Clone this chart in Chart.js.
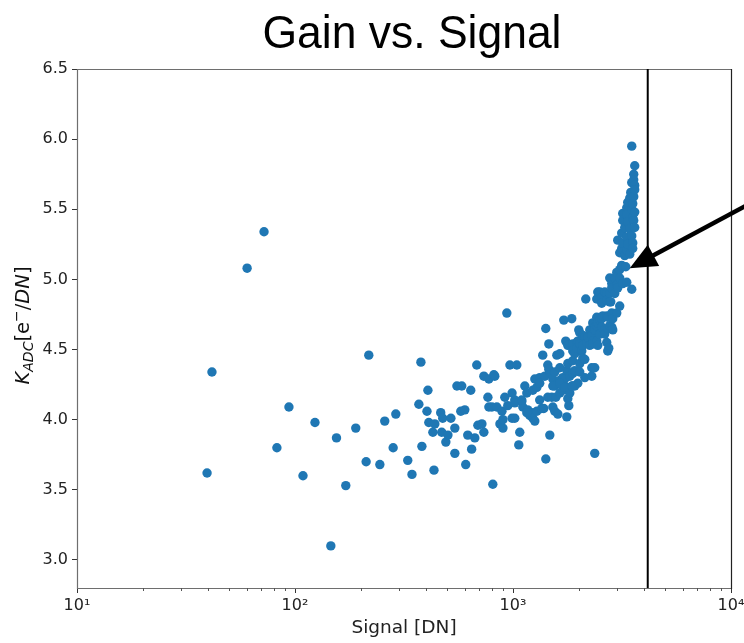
<!DOCTYPE html>
<html>
<head>
<meta charset="utf-8">
<script src="https://cdn.jsdelivr.net/npm/chart.js@4.4.1/dist/chart.umd.min.js"></script>
<style>
html,body{margin:0;padding:0;background:#fff;}
#wrap{width:744px;height:643px;position:relative;}
</style>
</head>
<body>
<div id="wrap"><canvas id="c" width="744" height="643"></canvas></div>
<script>
// ---------------- data ----------------
const chartTitle = 'Gain vs. Signal';
const xAxisTitle = 'Signal [DN]';
const xRange = [10, 10000];
const yRange = [2.8, 6.5];
const xMajorTicks = [10, 100, 1000, 10000];
const yTickValues = [3.0, 3.5, 4.0, 4.5, 5.0, 5.5, 6.0, 6.5];
const saturationSignal = 4150;           // vertical line
const arrowTip = {x: 3430, y: 5.08};     // annotation arrow (data coords)
const arrowTail = {x: 13600, y: 5.58};

const signal = [
39.5,41.6,60.3,72.1,82.6,93.8,108.8,123.5,146,155,171,190,212,218,245,258,282,290,329,344,
370,378,382,403,407,411,429,434,438,466,476,471,492,503,519,541,541,553,582,576,
601,607,620,640,646,668,682,690,720,735,735,767,775,775,800,808,825,843,871,890,
899,917,937,946,968,990,990,1019,1019,1041,1063,1074,1097,1109,1133,1157,1169,1194,1220,1233,
1233,1259,1259,1286,1286,1326,1326,1354,1369,1384,1399,1414,1414,1444,1444,1460,1475,1475,1507,1523,
1523,1555,1555,1572,1589,1606,1606,1640,1640,1640,1692,1692,1710,1728,1746,1765,1765,1765,1784,1784,
1784,1803,1822,1822,1860,1880,1880,1880,1880,1880,1920,1920,1920,1961,1961,1982,1982,2003,2024,2024,
2024,2024,2068,2090,2090,2090,2134,2134,2134,2157,2180,2203,2250,2250,2298,2298,2298,2322,2322,2322,
2371,2371,2371,2371,2422,2422,2422,2422,2448,2448,2448,2500,2500,2500,2553,2553,2553,2553,2580,2635,
2635,2635,2691,2691,2691,2691,2720,2720,2720,2749,2778,2778,2778,2778,2808,2838,2838,2838,2838,2868,
2868,2929,2929,2991,2991,2991,3023,3023,3087,3087,3087,3087,3152,3152,3152,3186,3186,3186,3186,3255,
3255,3290,3325,3325,3325,3325,3325,3360,3360,3360,3432,3432,3432,3468,3505,3505,3505,3505,3505,3542,
3542,3542,3542,3579,3579,3579,3579,3617,3617,3617,3617,3617,
1019,1097,1157,1523,1640,1728,1860,1326,1460,1555,1640,899,817
];
const gain = [
3.62,4.34,5.08,5.34,3.80,4.09,3.60,3.98,3.10,3.87,3.53,3.94,3.70,4.46,3.68,3.99,3.80,4.04,3.71,3.61,
4.11,4.41,3.81,4.06,4.21,3.98,3.91,3.64,3.97,4.05,4.01,3.91,3.84,3.89,4.01,3.94,3.76,4.24,4.24,4.06,
4.07,3.68,3.89,4.21,3.79,3.87,4.39,3.96,3.97,4.31,3.91,4.16,4.29,4.09,4.09,3.54,4.31,4.09,3.97,4.06,
3.94,4.16,4.76,4.10,4.39,4.19,4.01,4.14,4.01,4.39,3.82,3.91,4.13,4.09,4.24,4.19,4.07,4.03,4.05,4.21,
4.01,4.29,3.99,4.06,4.23,4.30,4.14,4.08,4.46,4.08,4.31,4.65,3.72,4.39,4.16,4.54,4.34,3.89,4.16,4.29,
4.09,4.24,4.06,4.16,4.46,4.26,4.04,4.47,4.28,4.19,4.30,4.21,4.71,4.29,4.56,4.35,4.23,4.02,4.53,4.40,
4.15,4.10,4.31,4.19,4.72,4.54,4.49,4.42,4.33,4.24,4.47,4.35,4.24,4.55,4.51,4.26,4.56,4.64,4.62,4.54,
4.40,4.34,4.49,4.60,4.53,4.44,4.59,4.43,4.30,4.86,4.55,4.59,4.64,4.53,4.60,4.37,4.31,4.69,4.56,4.54,
4.66,4.64,4.37,3.76,4.86,4.73,4.67,4.56,4.91,4.69,4.53,4.91,4.71,4.61,4.87,4.83,4.72,4.66,4.74,4.91,
4.64,4.61,4.90,4.85,4.74,4.55,4.73,4.65,4.49,4.51,5.01,4.90,4.84,4.67,4.84,4.97,4.94,4.76,4.66,4.72,
4.64,5.01,4.90,5.05,4.96,4.76,5.28,4.94,5.19,5.07,5.01,4.81,5.33,5.22,5.10,5.47,5.42,5.26,4.97,5.37,
5.17,5.09,5.51,5.46,5.30,5.21,4.98,5.55,5.41,5.25,5.58,5.36,5.18,5.62,5.95,5.69,5.50,5.31,4.93,5.54,
5.44,5.26,5.22,5.75,5.71,5.59,5.42,5.81,5.67,5.64,5.48,5.37,
4.12,4.14,4.05,4.24,4.26,4.23,4.24,4.26,4.36,4.34,4.37,4.00,4.32
];

// ---------------- helpers ----------------
const isPow10 = v => Math.abs(Math.log10(v) - Math.round(Math.log10(v))) < 1e-9;
const supDigits = {'0':'\u2070','1':'\u00B9','2':'\u00B2','3':'\u00B3','4':'\u2074','5':'\u2075','6':'\u2076','7':'\u2077','8':'\u2078','9':'\u2079'};
const FONT = '"DejaVu Sans", Verdana, sans-serif';
const TICK_COLOR = '#333';

const decorPlugin = {
  id: 'decor',
  beforeDatasetsDraw(chart) {
    const {ctx, chartArea: a} = chart;
    ctx.save();
    // spines
    ctx.lineWidth = 1.2;
    ctx.strokeStyle = '#6e6e6e';
    ctx.beginPath();
    ctx.moveTo(a.left + 0.5, a.top + 0.5);
    ctx.lineTo(a.right, a.top + 0.5);
    ctx.moveTo(a.left + 0.5, a.top);
    ctx.lineTo(a.left + 0.5, a.bottom + 0.5);
    ctx.lineTo(a.right, a.bottom + 0.5);
    ctx.stroke();
    ctx.strokeStyle = '#222';
    ctx.beginPath();
    ctx.moveTo(a.right + 0.5, a.top);
    ctx.lineTo(a.right + 0.5, a.bottom + 1);
    ctx.stroke();
    // minor x ticks
    const xs = chart.scales.x;
    ctx.strokeStyle = '#555';
    ctx.lineWidth = 1;
    ctx.beginPath();
    for (let d = xRange[0]; d < xRange[1]; d *= 10) {
      for (let m = 2; m <= 9; m++) {
        const px = Math.round(xs.getPixelForValue(d * m)) + 0.5;
        ctx.moveTo(px, a.bottom);
        ctx.lineTo(px, a.bottom + 3);
      }
    }
    ctx.stroke();
    ctx.restore();
  },
  afterDraw(chart) {
    const {ctx, chartArea: a} = chart;
    const xs = chart.scales.x, ys = chart.scales.y;
    ctx.save();
    // title (condensed)
    ctx.fillStyle = '#000';
    ctx.font = '46px "Liberation Sans", Arial, sans-serif';
    ctx.textAlign = 'center';
    ctx.textBaseline = 'alphabetic';
    const w = ctx.measureText(chartTitle).width;
    const cx = (a.left + a.right) / 2 + 8;
    ctx.translate(cx, 48);
    ctx.scale(299 / w, 1);
    ctx.fillText(chartTitle, 0, 0);
    ctx.restore();

    // y axis label  K_{ADC}[e^-/DN]
    ctx.save();
    ctx.fillStyle = '#111';
    const size = 19.5;
    const segs = [
      {t: 'K', f: 'italic ' + size + 'px ' + FONT, dy: 0},
      {t: 'ADC', f: 'italic ' + Math.round(size * 0.7) + 'px ' + FONT, dy: 4},
      {t: '[', f: size + 'px ' + FONT, dy: 0},
      {t: 'e', f: size + 'px ' + FONT, dy: 0},
      {t: '\u2212', f: Math.round(size * 0.7) + 'px ' + FONT, dy: -8},
      {t: '/', f: size + 'px ' + FONT, dy: 0},
      {t: 'DN', f: 'italic ' + size + 'px ' + FONT, dy: 0},
      {t: ']', f: size + 'px ' + FONT, dy: 0}
    ];
    let total = 0;
    segs.forEach(s => { ctx.font = s.f; s.w = ctx.measureText(s.t).width; total += s.w; });
    ctx.translate(29, (a.top + a.bottom) / 2 - 3);
    ctx.rotate(-Math.PI / 2);
    ctx.textBaseline = 'alphabetic';
    ctx.textAlign = 'left';
    let x = -total / 2;
    segs.forEach(s => { ctx.font = s.f; ctx.fillText(s.t, x, s.dy); x += s.w; });
    ctx.restore();

    // arrow annotation
    ctx.save();
    const tx = xs.getPixelForValue(arrowTip.x), ty = ys.getPixelForValue(arrowTip.y);
    const sx = xs.getPixelForValue(arrowTail.x), sy = ys.getPixelForValue(arrowTail.y);
    const dx = sx - tx, dy = sy - ty, L = Math.hypot(dx, dy);
    const ux = dx / L, uy = dy / L;
    const headLen = 27, headHalf = 12;
    ctx.strokeStyle = '#000';
    ctx.fillStyle = '#000';
    ctx.lineWidth = 4.5;
    ctx.beginPath();
    ctx.moveTo(sx, sy);
    ctx.lineTo(tx + ux * (headLen - 2), ty + uy * (headLen - 2));
    ctx.stroke();
    const bx = tx + ux * headLen, by = ty + uy * headLen;
    ctx.beginPath();
    ctx.moveTo(tx, ty);
    ctx.lineTo(bx - uy * headHalf, by + ux * headHalf);
    ctx.lineTo(bx + uy * headHalf, by - ux * headHalf);
    ctx.closePath();
    ctx.fill();
    ctx.restore();
  }
};

const points = signal.map((s, i) => ({x: s, y: gain[i]}));

new Chart(document.getElementById('c'), {
  data: {
    datasets: [
      {
        type: 'scatter',
        data: points,
        backgroundColor: '#1f77b4',
        borderWidth: 0,
        pointRadius: 4.7,
        pointHoverRadius: 4.7
      },
      {
        type: 'line',
        data: [{x: saturationSignal, y: yRange[0]}, {x: saturationSignal, y: yRange[1]}],
        borderColor: '#000',
        borderWidth: 2,
        pointRadius: 0,
        fill: false
      }
    ]
  },
  options: {
    responsive: false,
    animation: false,
    devicePixelRatio: 1,
    layout: {padding: {top: 69, right: 13, left: 0, bottom: 0}},
    plugins: {legend: {display: false}, tooltip: {enabled: false}, title: {display: false}},
    scales: {
      x: {
        type: 'logarithmic',
        min: xRange[0],
        max: xRange[1],
        afterBuildTicks: s => { s.ticks = xMajorTicks.map(v => ({value: v, major: true})); },
        afterFit: s => { s.height = 55; s.paddingLeft = 0; s.paddingRight = 0; },
        ticks: {
          autoSkip: false,
          maxRotation: 0,
          padding: 3,
          color: '#222',
          font: {family: FONT, size: 16},
          callback: v => isPow10(v) ? '10' + String(Math.round(Math.log10(v))).split('').map(c => supDigits[c]).join('') : ''
        },
        grid: {drawOnChartArea: false, drawTicks: true, tickLength: 5, tickColor: TICK_COLOR, tickWidth: 1},
        border: {display: false},
        title: {display: true, text: xAxisTitle, color: '#222', font: {family: FONT, size: 18.5}, padding: {top: 0, bottom: 4}}
      },
      y: {
        type: 'linear',
        min: yRange[0],
        max: yRange[1],
        afterBuildTicks: s => { s.ticks = yTickValues.map(v => ({value: v})); },
        afterFit: s => { s.width = 77; s.paddingTop = 0; s.paddingBottom = 0; },
        ticks: {
          color: '#222',
          padding: 4,
          font: {family: FONT, size: 16},
          callback: v => Number(v).toFixed(1)
        },
        grid: {drawOnChartArea: false, drawTicks: true, tickLength: 5, tickColor: TICK_COLOR, tickWidth: 1},
        border: {display: false}
      }
    }
  },
  plugins: [decorPlugin]
});
</script>
</body>
</html>
